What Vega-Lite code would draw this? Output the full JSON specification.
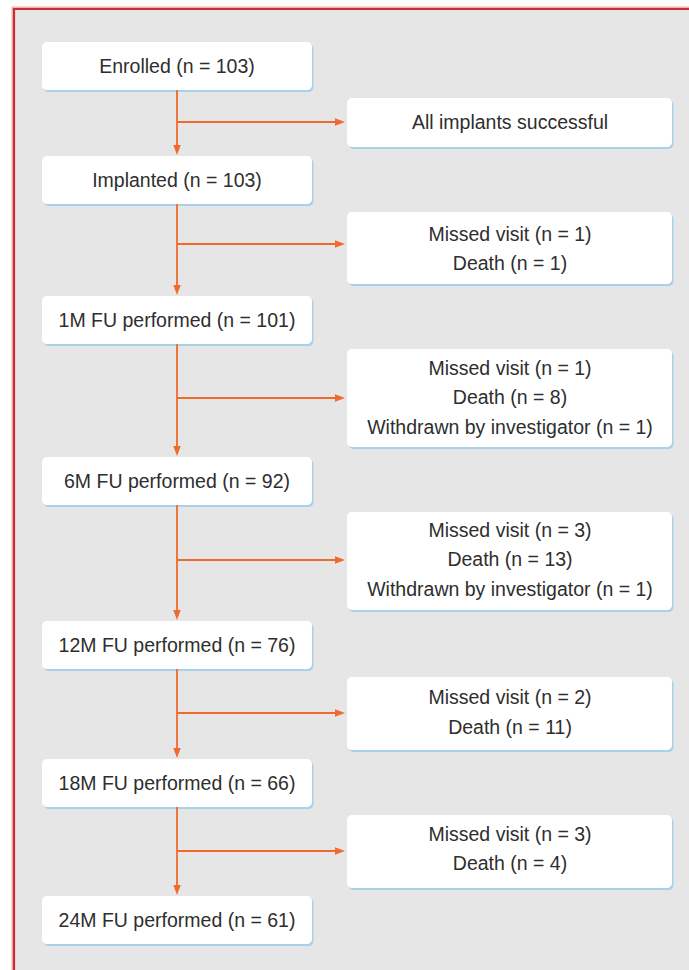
{
  "$schema": "https://vega.github.io/schema/vega-lite/v6.json",
  "width": 689,
  "height": 970,
  "autosize": {"type": "fit", "contains": "padding"},
  "padding": 0,
  "background": "#ffffff",
  "config": {"view": {"stroke": null}},
  "datasets": {
    "frame": [{"x1": 14, "x2": 720, "y1": 9, "y2": 1000}],
    "boxes": [
      {"box": "Enrolled", "x1": 42, "x2": 312, "y1": 42, "y2": 90},
      {"box": "Implanted", "x1": 42, "x2": 312, "y1": 156, "y2": 204},
      {"box": "1M FU", "x1": 42, "x2": 312, "y1": 296, "y2": 344},
      {"box": "6M FU", "x1": 42, "x2": 312, "y1": 457, "y2": 505},
      {"box": "12M FU", "x1": 42, "x2": 312, "y1": 621, "y2": 669},
      {"box": "18M FU", "x1": 42, "x2": 312, "y1": 759, "y2": 807},
      {"box": "24M FU", "x1": 42, "x2": 312, "y1": 896, "y2": 944},
      {"box": "Exit 1", "x1": 347, "x2": 672, "y1": 98, "y2": 147},
      {"box": "Exit 2", "x1": 347, "x2": 672, "y1": 212, "y2": 284},
      {"box": "Exit 3", "x1": 347, "x2": 672, "y1": 349, "y2": 447},
      {"box": "Exit 4", "x1": 347, "x2": 672, "y1": 512, "y2": 610},
      {"box": "Exit 5", "x1": 347, "x2": 672, "y1": 677, "y2": 750},
      {"box": "Exit 6", "x1": 347, "x2": 672, "y1": 815, "y2": 888}
    ],
    "links": [
      {"x1": 177, "x2": 177, "y1": 90, "y2": 150},
      {"x1": 177, "x2": 177, "y1": 204, "y2": 290},
      {"x1": 177, "x2": 177, "y1": 344, "y2": 451},
      {"x1": 177, "x2": 177, "y1": 505, "y2": 615},
      {"x1": 177, "x2": 177, "y1": 669, "y2": 753},
      {"x1": 177, "x2": 177, "y1": 807, "y2": 890},
      {"x1": 177, "x2": 340, "y1": 122, "y2": 122},
      {"x1": 177, "x2": 340, "y1": 244, "y2": 244},
      {"x1": 177, "x2": 340, "y1": 398, "y2": 398},
      {"x1": 177, "x2": 340, "y1": 560, "y2": 560},
      {"x1": 177, "x2": 340, "y1": 713, "y2": 713},
      {"x1": 177, "x2": 340, "y1": 851, "y2": 851}
    ],
    "heads": [
      {"x": 177, "y": 150, "dir": "down"},
      {"x": 177, "y": 290, "dir": "down"},
      {"x": 177, "y": 451, "dir": "down"},
      {"x": 177, "y": 615, "dir": "down"},
      {"x": 177, "y": 753, "dir": "down"},
      {"x": 177, "y": 890, "dir": "down"},
      {"x": 340, "y": 122, "dir": "right"},
      {"x": 340, "y": 244, "dir": "right"},
      {"x": 340, "y": 398, "dir": "right"},
      {"x": 340, "y": 560, "dir": "right"},
      {"x": 340, "y": 713, "dir": "right"},
      {"x": 340, "y": 851, "dir": "right"}
    ],
    "labels": [
      {"x": 177, "y": 67, "label": "Enrolled (n = 103)"},
      {"x": 177, "y": 181, "label": "Implanted (n = 103)"},
      {"x": 177, "y": 321, "label": "1M FU performed (n = 101)"},
      {"x": 177, "y": 482, "label": "6M FU performed (n = 92)"},
      {"x": 177, "y": 646, "label": "12M FU performed (n = 76)"},
      {"x": 177, "y": 784, "label": "18M FU performed (n = 66)"},
      {"x": 177, "y": 921, "label": "24M FU performed (n = 61)"},
      {"x": 510, "y": 123, "label": "All implants successful"},
      {"x": 510, "y": 235, "label": "Missed visit (n = 1)"},
      {"x": 510, "y": 264, "label": "Death (n = 1)"},
      {"x": 510, "y": 369, "label": "Missed visit (n = 1)"},
      {"x": 510, "y": 398, "label": "Death (n = 8)"},
      {"x": 510, "y": 428, "label": "Withdrawn by investigator (n = 1)"},
      {"x": 510, "y": 531, "label": "Missed visit (n = 3)"},
      {"x": 510, "y": 560, "label": "Death (n = 13)"},
      {"x": 510, "y": 590, "label": "Withdrawn by investigator (n = 1)"},
      {"x": 510, "y": 698, "label": "Missed visit (n = 2)"},
      {"x": 510, "y": 728, "label": "Death (n = 11)"},
      {"x": 510, "y": 835, "label": "Missed visit (n = 3)"},
      {"x": 510, "y": 864, "label": "Death (n = 4)"}
    ]
  },
  "layer": [
    {
      "data": {"name": "frame"},
      "mark": {"type": "rect", "fill": "#e6e6e7", "stroke": "#f0b3b6", "strokeWidth": 5, "clip": true},
      "encoding": {
        "x": {"field": "x1", "type": "quantitative", "scale": {"domain": [0, 689], "nice": false, "zero": false}, "axis": null},
        "x2": {"field": "x2"},
        "y": {"field": "y1", "type": "quantitative", "scale": {"domain": [0, 970], "nice": false, "zero": false, "reverse": true}, "axis": null},
        "y2": {"field": "y2"}
      }
    },
    {
      "data": {"name": "frame"},
      "mark": {"type": "rect", "fill": "#e6e6e7", "stroke": "#cc2d35", "strokeWidth": 2.2, "clip": true},
      "encoding": {
        "x": {"field": "x1", "type": "quantitative", "axis": null},
        "x2": {"field": "x2"},
        "y": {"field": "y1", "type": "quantitative", "axis": null},
        "y2": {"field": "y2"}
      }
    },
    {
      "data": {"name": "boxes"},
      "mark": {"type": "rect", "fill": "#a9d1ea", "cornerRadius": 5, "xOffset": 1.5, "x2Offset": 1.5, "yOffset": 2, "y2Offset": 2},
      "encoding": {
        "x": {"field": "x1", "type": "quantitative", "axis": null},
        "x2": {"field": "x2"},
        "y": {"field": "y1", "type": "quantitative", "axis": null},
        "y2": {"field": "y2"}
      }
    },
    {
      "data": {"name": "boxes"},
      "mark": {"type": "rect", "fill": "#ffffff", "cornerRadius": 5},
      "encoding": {
        "x": {"field": "x1", "type": "quantitative", "axis": null},
        "x2": {"field": "x2"},
        "y": {"field": "y1", "type": "quantitative", "axis": null},
        "y2": {"field": "y2"}
      }
    },
    {
      "data": {"name": "links"},
      "mark": {"type": "rule", "color": "#ef6a2c", "strokeWidth": 1.8},
      "encoding": {
        "x": {"field": "x1", "type": "quantitative", "axis": null},
        "x2": {"field": "x2"},
        "y": {"field": "y1", "type": "quantitative", "axis": null},
        "y2": {"field": "y2"}
      }
    },
    {
      "data": {"name": "heads"},
      "transform": [{"filter": "datum.dir === 'down'"}],
      "mark": {"type": "point", "shape": "M-0.75,-1L0.75,-1L0,1Z", "filled": true, "color": "#ef6a2c", "size": 100, "opacity": 1},
      "encoding": {
        "x": {"field": "x", "type": "quantitative", "axis": null},
        "y": {"field": "y", "type": "quantitative", "axis": null}
      }
    },
    {
      "data": {"name": "heads"},
      "transform": [{"filter": "datum.dir === 'right'"}],
      "mark": {"type": "point", "shape": "M-1,-0.75L-1,0.75L1,0Z", "filled": true, "color": "#ef6a2c", "size": 100, "opacity": 1},
      "encoding": {
        "x": {"field": "x", "type": "quantitative", "axis": null},
        "y": {"field": "y", "type": "quantitative", "axis": null}
      }
    },
    {
      "data": {"name": "labels"},
      "mark": {"type": "text", "font": "Liberation Sans", "fontSize": 19.5, "color": "#2e2e2e", "align": "center", "baseline": "middle"},
      "encoding": {
        "x": {"field": "x", "type": "quantitative", "axis": null},
        "y": {"field": "y", "type": "quantitative", "axis": null},
        "text": {"field": "label"}
      }
    }
  ]
}
